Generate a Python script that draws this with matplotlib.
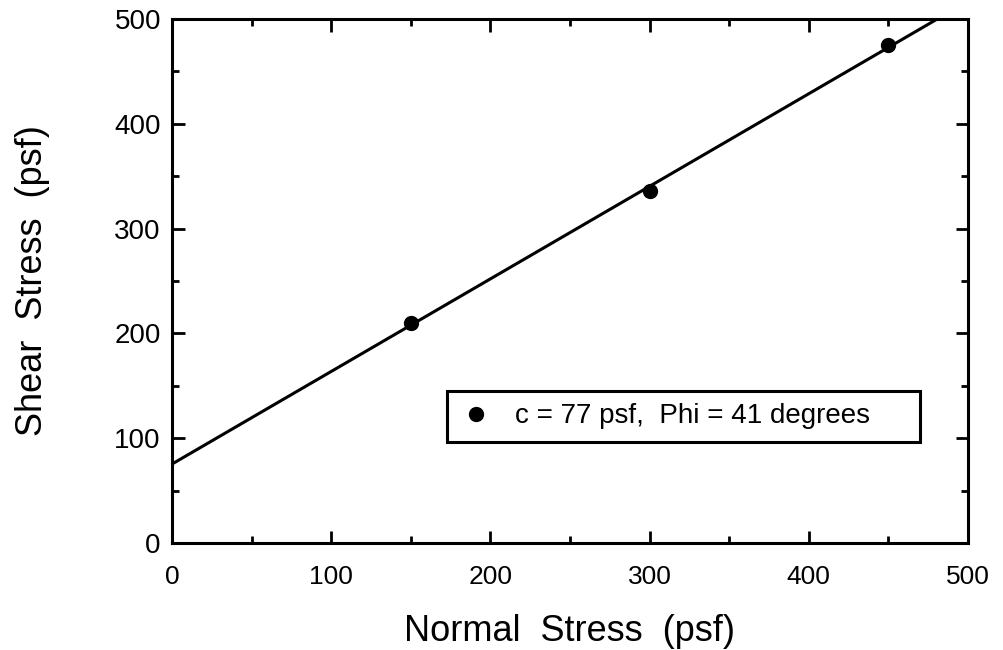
#!/usr/bin/env python3
import numpy as np
from matplotlib import pyplot as plt

# measured direct shear results
normal_stress = [150, 300, 450]
shear_stress = [210, 336, 475]
legend_label = "c = 77 psf,  Phi = 41 degrees"

plt.rcParams["font.family"] = ["Liberation Sans", "DejaVu Sans"]


def main():
    fig = plt.figure(figsize=(10.04, 6.5), dpi=100)
    ax = fig.add_axes([0.1713, 0.1646, 0.7928, 0.8062])

    # failure envelope: least squares fit through the points
    slope, intercept = np.polyfit(normal_stress, shear_stress, 1)
    xs = np.array([0, 500])
    ax.plot(xs, intercept + slope * xs, color="black", lw=2.2, zorder=2)

    ax.plot(normal_stress, shear_stress, "o", color="black", ms=10,
            label=legend_label, zorder=3)

    ax.set_xlim(0, 500)
    ax.set_ylim(0, 500)
    ax.set_xticks(range(0, 501, 100))
    ax.set_yticks(range(0, 501, 100))
    ax.set_xticks(range(0, 501, 50), minor=True)
    ax.set_yticks(range(0, 501, 50), minor=True)
    ax.tick_params(which="both", direction="in", top=True, right=True,
                   width=2.0, colors="black")
    ax.tick_params(which="major", length=9)
    ax.tick_params(which="minor", length=5)
    ax.tick_params(axis="x", which="major", labelsize=19, pad=16)
    ax.tick_params(axis="y", which="major", labelsize=20, pad=8)
    for side in ax.spines.values():
        side.set_linewidth(2.2)

    ax.set_xlabel("Normal  Stress  (psf)", fontsize=26, labelpad=18)
    ax.set_ylabel("Shear  Stress  (psf)", fontsize=26, labelpad=46)

    leg = ax.legend(
        loc="lower left",
        bbox_to_anchor=(0.345, 0.193, 0.595, 0.109),
        mode="expand",
        fontsize=20,
        frameon=True,
        fancybox=False,
        framealpha=1,
        edgecolor="black",
        handlelength=1.2,
        handletextpad=0.8,
        borderpad=0.45,
        borderaxespad=0,
    )
    leg.get_frame().set_linewidth(2.2)

    fig.savefig("out.png", dpi=100)


if __name__ == "__main__":
    main()
